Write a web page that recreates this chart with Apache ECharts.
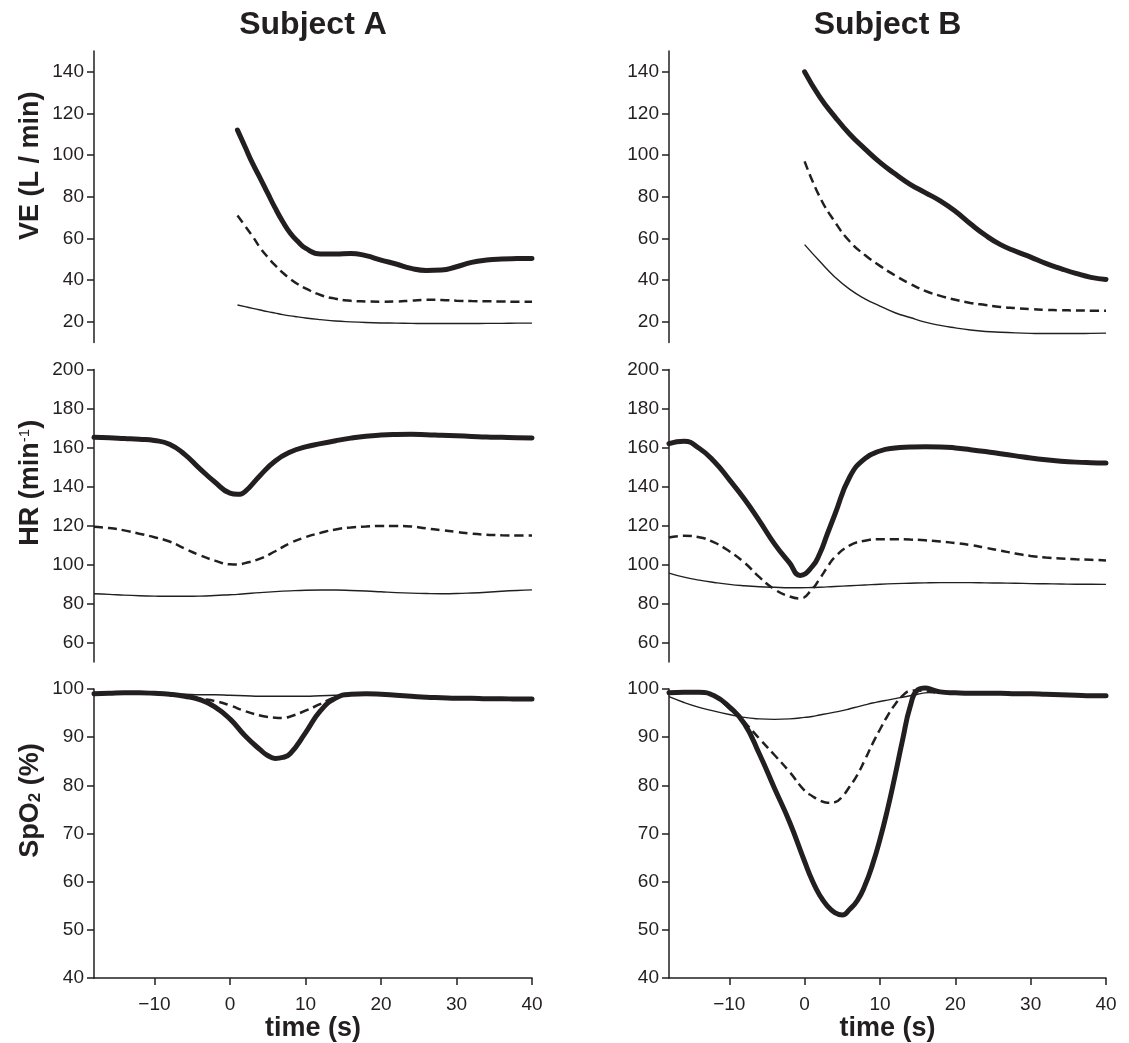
<!DOCTYPE html>
<html>
<head>
<meta charset="utf-8">
<script src="https://cdn.jsdelivr.net/npm/echarts@6/dist/echarts.min.js"></script>
<style>html,body{margin:0;padding:0;background:#fff}#c{width:1129px;height:1043px}</style>
</head>
<body>
<div id="c"></div>
<script>
// ---------- DATA ----------
const subjects = ['Subject A', 'Subject B'];
const xTicks = [-10, 0, 10, 20, 30, 40];
const veTicks = [20, 40, 60, 80, 100, 120, 140];
const hrTicks = [60, 80, 100, 120, 140, 160, 180, 200];

// VE (L/min)
const tVeA = [1,2,3,4,5,6,7,8,9,10,12,14,16,18,20,22,24,26,28,30,32,34,36,38,40];
const veA_thick = [112,104,96,89,81.7,74.5,68,62.5,58.5,55.3,52.5,52.5,52.8,51.7,49.6,47.7,45.6,44.6,44.8,46.4,48.5,49.6,50.1,50.3,50.4];
const veA_dash  = [71,66,61,55.5,51,47,43.5,40.5,38,36,32.8,31,30,29.7,29.6,29.7,30.1,30.5,30.4,30.1,29.9,29.8,29.7,29.6,29.6];
const veA_thin  = [28,27.2,26.4,25.6,24.8,24.1,23.4,22.8,22.3,21.8,21,20.3,19.9,19.6,19.4,19.3,19.2,19.1,19.1,19.1,19.1,19.2,19.2,19.3,19.3];

const tVeB = [0,2,4,6,8,10,12,14,16,18,20,22,24,26,28,30,32,34,36,38,40];
const veB_thick = [140,128,118.5,110,103,96.5,91,86,82,78,73,67,61.5,57,53.8,51,48,45.5,43.2,41.3,40.3];
const veB_dash  = [97,80,68,58.5,52,46.8,42.2,38.2,34.8,32.4,30.5,29,28,27.1,26.5,26,25.7,25.5,25.4,25.3,25.3];
const veB_thin  = [57,49,41.5,35.5,31,27.5,24.3,22,19.8,18.2,17,16,15.3,14.9,14.6,14.4,14.3,14.3,14.3,14.4,14.5];

// HR (min-1)
const tHrA = [-18,-16,-14,-12,-10,-8,-6,-4,-2,0,1,2,4,6,8,10,12,14,16,18,20,22,24,26,28,30,32,34,36,38,40];
const hrA_thick = [165.2,165,164.6,164.2,163.6,161.7,156.5,149.2,142.3,136.6,136,137.4,145.7,153.1,157.7,160.3,162,163.5,164.8,165.8,166.4,166.7,166.8,166.6,166.3,166,165.7,165.4,165.2,165,164.9];
const hrA_dash  = [119.3,118.7,117.5,115.8,114,111.8,108.2,104.8,102,100.1,100,100.7,103,106.8,111,114,116.2,118,119,119.5,119.8,119.8,119.5,118.5,117.6,116.7,115.8,115.3,115,114.9,114.9];
const hrA_thin  = [85,84.7,84.3,84,83.8,83.7,83.7,83.8,84.1,84.5,84.7,85,85.6,86.1,86.5,86.8,86.9,86.9,86.7,86.4,86,85.6,85.3,85.1,85,85.1,85.4,85.8,86.3,86.7,87];

const tHrB = [-18,-16,-14,-12,-10,-8,-6,-4,-2,-0.6,1,2,3,4,6,8,10,12,14,16,18,20,22,24,26,28,30,32,34,36,38,40];
const hrB_thick = [162,163.2,159.6,152.8,143.5,133.6,122.4,110.6,100.8,94.4,98.9,105.5,115.5,125.5,145,154.3,158.2,159.7,160.2,160.4,160.3,159.8,158.9,157.9,156.8,155.7,154.6,153.7,153,152.5,152.2,152];
const hrB_dash  = [113.8,114.7,114,111.3,106.8,101,93.5,87.3,83.6,82.6,87.4,92.7,98.5,103.8,109.8,112.2,113,113,112.8,112.4,111.8,111,110,108.6,107.1,105.6,104.4,103.6,103.1,102.7,102.4,102.1];
const hrB_thin  = [95.6,93.5,92,90.8,89.8,89.1,88.6,88.3,88.1,88.1,88.2,88.3,88.5,88.7,89.1,89.5,89.9,90.2,90.4,90.6,90.7,90.7,90.7,90.6,90.5,90.4,90.2,90.1,90,89.9,89.9,89.8];

// SpO2 (%)
const tSpA = [-18,-16,-14,-12,-10,-8,-6,-4,-2,0,2,4,5,6,7,8,10,12,14,16,18,20,22,24,26,28,30,32,34,36,38,40];
const spA_thick = [99,99.1,99.2,99.2,99.1,98.9,98.5,97.8,96.3,93.8,90.3,87.4,86.2,85.6,85.8,86.6,90.9,95.5,98.1,98.9,99,98.9,98.7,98.5,98.3,98.2,98.1,98.1,98,98,97.9,97.9];
const spA_dash  = [99,99.1,99.2,99.2,99.1,98.9,98.6,98,97.5,96.6,95.4,94.5,94.2,94.05,94,94.3,95.5,96.9,98.3,98.9,99,98.9,98.7,98.5,98.3,98.2,98.1,98.1,98,98,97.9,97.9];
const spA_thin  = [99,99,99,99,99,99,98.9,98.8,98.8,98.7,98.6,98.5,98.5,98.5,98.5,98.5,98.5,98.6,98.7,98.8,98.8,98.8,98.7,98.6,98.5,98.4,98.3,98.2,98.1,98.1,98,98];

const tSpB = [-18,-16,-14,-12,-10,-8,-6,-4,-2,0,1,2,3,4,5,6,7,8,9,10,11,12,13,14,15,16,17,18,20,22,24,26,28,30,32,34,36,38,40];
const spB_thick = [99.2,99.3,99.3,98.6,96.3,92.8,86.5,79.4,72.4,64.2,60.3,57.2,55,53.6,53.1,54.3,56.1,59.2,63.5,68.8,75,82,89.4,96.3,99.8,100.2,99.8,99.4,99.2,99.1,99.1,99.1,99,99,98.9,98.8,98.7,98.6,98.6];
const spB_dash  = [99.2,99.3,99.2,98.5,96,93.1,89.7,86.3,82.8,78.9,77.8,76.9,76.4,76.5,77.7,79.8,82.2,85.3,88.6,91.6,94.4,96.8,98.6,99.6,99.7,99.5,99.3,99.2,99.1,99.1,99.1,99.1,99,99,98.9,98.8,98.7,98.6,98.6];
const spB_thin  = [98.4,97.2,96.2,95.4,94.7,94.1,93.8,93.7,93.8,94.1,94.3,94.6,94.9,95.2,95.5,95.9,96.3,96.7,97.1,97.4,97.7,98,98.3,98.6,98.9,99.2,99.3,99.3,99.2,99.1,99.1,99.1,99,99,98.9,98.8,98.7,98.6,98.6];

// ---------- CHART ----------
const INK = '#231f20';
const FONT = '"Liberation Sans", Arial, sans-serif';
const pairs = (t, v) => t.map((x, i) => [x, v[i]]);

const colLeft = [94, 669], colWidth = [438, 437];
const rowTop = [51, 369.5, 689], rowHeight = [291.5, 292.5, 292];

const grids = [], xAxes = [], yAxes = [], series = [];
const yMeta = [
  {min: 10, max: 150, ticks: veTicks},
  {min: 50, max: 200, ticks: hrTicks},
  {min: 40, max: 100, interval: 10}
];
const yNames = [
  {text: '{a|VE (L / min)}', gap: 50, shift: 62},
  {text: '{a|HR (min}{s|-1}{a|)}', gap: 50, shift: 66},
  {text: '{a|SpO}{b|2}{a| (%)}', gap: 50, shift: 66}
];
const panels = [
  [[tVeA, veA_thick, veA_dash, veA_thin], [tVeB, veB_thick, veB_dash, veB_thin]],
  [[tHrA, hrA_thick, hrA_dash, hrA_thin], [tHrB, hrB_thick, hrB_dash, hrB_thin]],
  [[tSpA, spA_thick, spA_dash, spA_thin], [tSpB, spB_thick, spB_dash, spB_thin]]
];

for (let r = 0; r < 3; r++) {
  for (let c = 0; c < 2; c++) {
    const gi = grids.length;
    grids.push({left: colLeft[c], top: rowTop[r], width: colWidth[c], height: rowHeight[r], containLabel: false});
    const isBottom = r === 2;
    xAxes.push({
      type: 'value', gridIndex: gi, min: -18, max: 40, show: isBottom,
      axisLine: {show: true, onZero: false, lineStyle: {color: INK, width: 1.5}},
      axisTick: {show: true, length: 7, lineStyle: {color: INK, width: 1.5}, customValues: xTicks},
      axisLabel: {customValues: xTicks, fontSize: 19, fontFamily: FONT, color: INK, margin: 17,
        formatter: v => String(v).replace('-', '\u2212')},
      splitLine: {show: false},
      name: isBottom ? 'time (s)' : '', nameLocation: 'middle', nameGap: 34,
      nameTextStyle: {fontSize: 27, fontWeight: 'bold', fontFamily: FONT, color: INK}
    });
    const ym = yMeta[r];
    const ya = {
      type: 'value', gridIndex: gi, min: ym.min, max: ym.max,
      axisLine: {show: true, onZero: false, lineStyle: {color: INK, width: 1.5}},
      axisTick: {show: true, length: 7, lineStyle: {color: INK, width: 1.5}},
      axisLabel: {fontSize: 19, fontFamily: FONT, color: INK, margin: 10},
      splitLine: {show: false}
    };
    if (ym.interval) { ya.interval = ym.interval; }
    else { ya.axisTick.customValues = ym.ticks; ya.axisLabel.customValues = ym.ticks; }
    if (c === 0) {
      const nm = yNames[r];
      ya.name = nm.text;
      ya.nameLocation = 'middle';
      ya.nameRotate = 90;
      ya.nameGap = nm.gap;
      ya.nameTextStyle = {
        padding: [0, 0, 0, nm.shift],
        rich: {
          a: {fontSize: 27, fontWeight: 'bold', fontFamily: FONT, color: INK},
          s: {fontSize: 15, fontFamily: FONT, color: INK, verticalAlign: 'top', lineHeight: 14},
          b: {fontSize: 17, fontWeight: 'bold', fontFamily: FONT, color: INK, verticalAlign: 'bottom', lineHeight: 12}
        }
      };
    }
    yAxes.push(ya);
    const [t, thick, dash, thin] = panels[r][c];
    const base = {type: 'line', xAxisIndex: gi, yAxisIndex: gi, showSymbol: false, smooth: 0.5, silent: true, clip: false};
    series.push(Object.assign({}, base, {data: pairs(t, thin), lineStyle: {color: INK, width: 1.4}}));
    series.push(Object.assign({}, base, {data: pairs(t, dash), lineStyle: {color: INK, width: 2.5, type: [9, 5]}}));
    series.push(Object.assign({}, base, {data: pairs(t, thick), lineStyle: {color: INK, width: 5, cap: 'round', join: 'round'}}));
  }
}

const chart = echarts.init(document.getElementById('c'), null, {renderer: 'canvas'});
chart.setOption({
  animation: false,
  backgroundColor: '#fff',
  title: subjects.map((s, i) => ({
    text: s, left: colLeft[i] + colWidth[i] / 2, top: 9, textAlign: 'center', padding: 0,
    textStyle: {fontSize: 32, fontWeight: 'bold', fontFamily: FONT, color: INK}
  })),
  grid: grids, xAxis: xAxes, yAxis: yAxes, series: series
});
</script>
</body>
</html>
